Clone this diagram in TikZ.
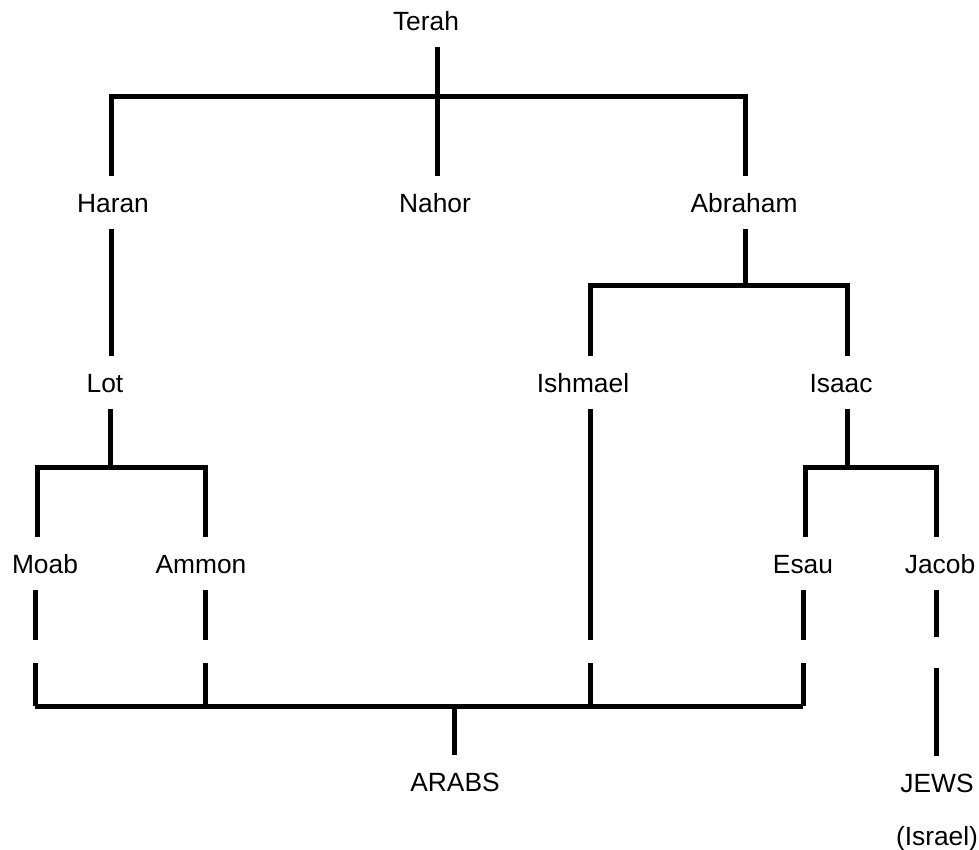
\documentclass[tikz,border=0pt]{standalone}
\usepackage{fontspec}
\setmainfont{Liberation Sans}
\begin{document}
\begin{tikzpicture}[x=0.02cm,y=-0.02cm,
    person/.style={font=\fontsize{15}{18}\selectfont, anchor=base,
      inner xsep=0pt, inner ysep=0.34cm, text height=0.38cm, text depth=0pt},
    line/.style={line width=0.1cm},
    drop/.style={line width=0.1cm, dash pattern=on 1cm off 0.46cm on 4cm}]
  \useasboundingbox (0,0) rectangle (979,849);

  % names
  \node[person] (terah) at (426,30) {Terah};
  \node[person] (haran) at (113,212) {Haran};
  \node[person] (nahor) at (435,212) {Nahor};
  \node[person] (abraham) at (744,212) {Abraham};
  \node[person] (lot) at (105,392) {Lot};
  \node[person] (ishmael) at (583,392) {Ishmael};
  \node[person] (isaac) at (841,392) {Isaac};
  \node[person] (moab) at (45,573) {Moab};
  \node[person] (ammon) at (201,573) {Ammon};
  \node[person] (esau) at (803,573) {Esau};
  \node[person] (jacob) at (940,573) {Jacob};
  \node[person] (arabs) at (455,791) {ARABS};
  \node[person] (jews) at (937,792) {JEWS};
  \node[person] (israel) at (937,845) {(Israel)};

  % junctions
  \coordinate (tm) at (437,96);
  \coordinate (tl) at (111,96);
  \coordinate (tr) at (745,96);
  \coordinate (lm) at (110,467);
  \coordinate (ll) at (37,467);
  \coordinate (lr) at (205,467);
  \coordinate (am) at (745,285);
  \coordinate (al) at (590,285);
  \coordinate (ar) at (847,285);
  \coordinate (im) at (847,467);
  \coordinate (il) at (805,467);
  \coordinate (ir) at (936,467);
  \coordinate (bl) at (35,706);
  \coordinate (bm) at (454,706);
  \coordinate (br) at (803,706);

  % Terah's sons
  \draw[line] (terah.south -| tm) -- (nahor.north -| tm);
  \draw[line] (haran.north -| tl) -- (tl) -- (tr) -- (abraham.north -| tr);
  \draw[line] (haran.south -| tl) -- (lot.north -| tl);

  % Lot
  \draw[line] (lot.south -| lm) -- (lm);
  \draw[line] (moab.north -| ll) -- (ll) -- (lr) -- (ammon.north -| lr);

  % Abraham
  \draw[line] (abraham.south -| am) -- (am);
  \draw[line] (ishmael.north -| al) -- (al) -- (ar) -- (isaac.north -| ar);

  % Isaac
  \draw[line] (isaac.south -| im) -- (im);
  \draw[line] (esau.north -| il) -- (il) -- (ir) -- (jacob.north -| ir);

  % down to the nations
  \draw[line] (bl) -- (br);
  \draw[line] (bm) -- (arabs.north -| bm);
  \draw[drop] (moab.south -| bl) -- (bl);
  \draw[drop] (ammon.south -| lr) -- (lr |- bl);
  \draw[drop] (esau.south -| br) -- (br);
  \draw[drop, dash pattern=on 4.62cm off 0.46cm on 4cm] (ishmael.south -| al) -- (al |- bl);
  \draw[drop, dash pattern=on 0.94cm off 0.62cm on 4cm] (jacob.south -| ir) -- (jews.north -| ir);
\end{tikzpicture}
\end{document}
